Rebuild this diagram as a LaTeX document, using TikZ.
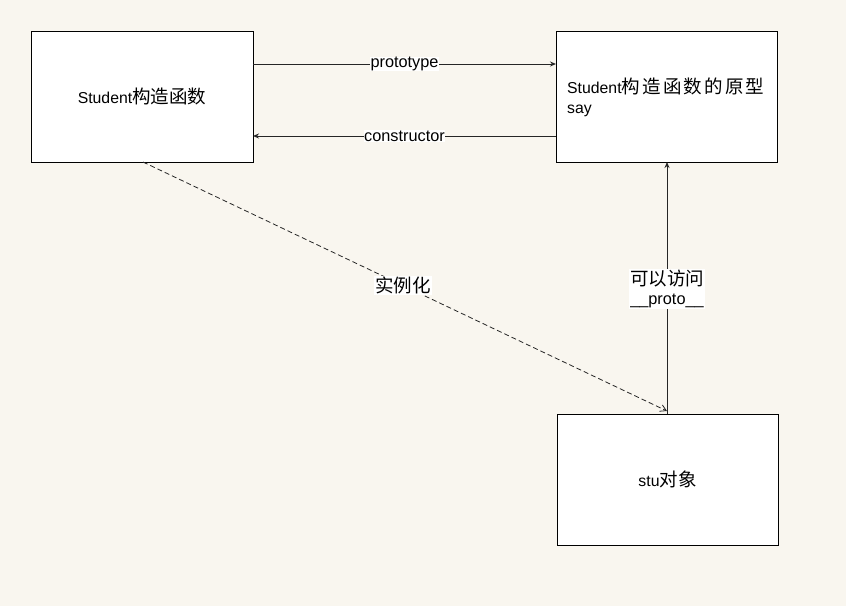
\documentclass[tikz,border=0pt]{standalone}
\usepackage{fontspec}
\setmainfont{Liberation Sans}
\newfontfamily\cjk{Noto Sans CJK SC}
\newfontfamily\cjkwide[LetterSpace=12]{Noto Sans CJK SC}
\newcommand{\zh}[1]{{\fontsize{18.5}{20}\cjk #1}}
\newcommand{\zhw}[1]{{\fontsize{18.5}{20}\cjkwide #1}}
\usetikzlibrary{arrows.meta}
\definecolor{bg}{HTML}{F9F6EF}
\begin{document}
\begin{tikzpicture}[x=1pt,y=-1pt,
  box/.style={draw=black,fill=white,line width=1pt,inner sep=0pt},
  conn/.style={draw=black!85,line width=1pt,-{Stealth[length=6pt,width=5pt]}},
  lbl/.style={fill=white,inner sep=0.5pt,font=\fontsize{16.3}{18}\selectfont},
  txt/.style={font=\fontsize{15.8}{20}\selectfont}]
\fill[bg] (0,0) rectangle (846,606);
\useasboundingbox (0,0) rectangle (846,606);
\node[box,minimum width=222pt,minimum height=131pt] (A) at (142,96.5) {};
\node[txt] at (A.center) {Student\zh{构造函数}};
\node[box,minimum width=221pt,minimum height=131pt] (B) at (666.5,96.5) {};
\node[txt,anchor=west,align=left,inner sep=0pt] at (567,97) {Student\zhw{构造函数的原型}\\say};
\node[box,minimum width=221pt,minimum height=131pt] (C) at (667.5,479.5) {};
\node[txt] at (C.center) {stu\zh{对象}};
\coordinate (a1) at (253,64);
\coordinate (b1) at (556,64);
\coordinate (a2) at (253,136);
\coordinate (b2) at (556,136);
\draw[conn] (a1) -- node[lbl] {prototype} (b1);
\draw[conn] (b2) -- node[lbl] {constructor} (a2);
\coordinate (as) at (143,162);
\coordinate (ce) at (667,411);
\draw[draw=black!85,line width=0.8pt,dash pattern=on 5pt off 3pt,-{Straight Barb[length=6pt,width=7pt]}] (as) -- node[pos=0.496,lbl,inner sep=1pt] {\zh{实例化}} (ce);
\coordinate (ct) at (667,414);
\coordinate (bb) at (667,162);
\draw[conn] (ct) -- node[pos=0.5,lbl,align=center,inner sep=1pt,yshift=-1pt] {\zh{可以访问}\\[1pt]\_\_proto\_\_} (bb);
\end{tikzpicture}
\end{document}
